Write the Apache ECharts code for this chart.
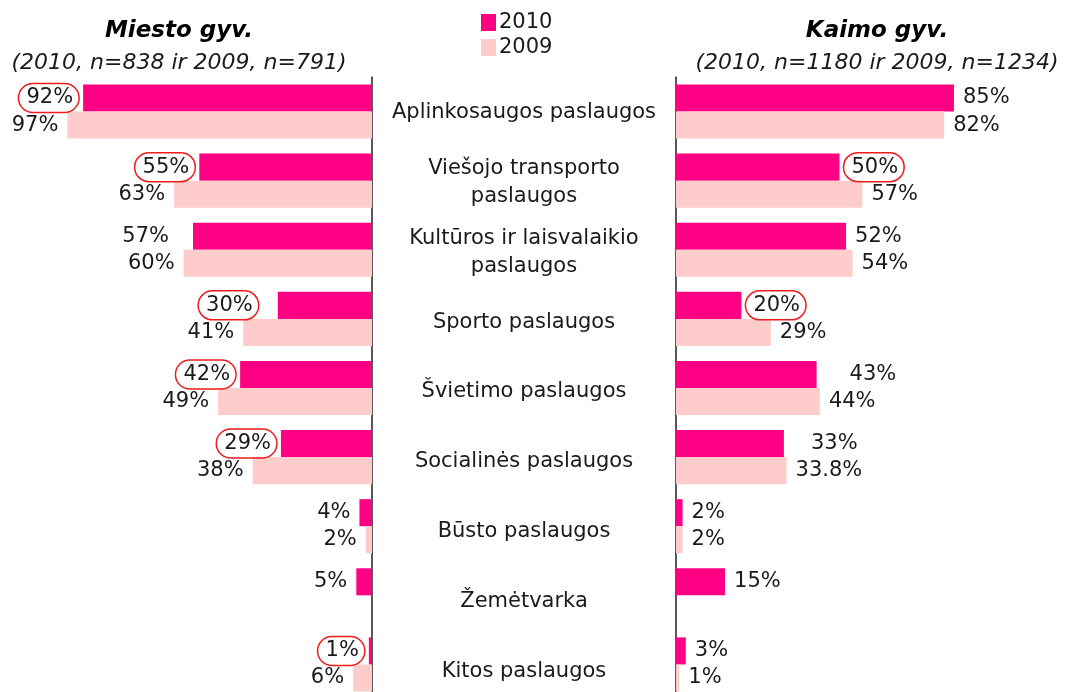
<!DOCTYPE html>
<html>
<head>
<meta charset="utf-8">
<script src="https://cdn.jsdelivr.net/npm/echarts@6/dist/echarts.min.js"></script>
<style>
  html, body { margin: 0; padding: 0; background: #fff; overflow: hidden; }
  /* the last category is cut by the bottom edge, as in the original */
  #chart { width: 1066px; height: 720px; }
</style>
</head>
<body>
<div id="chart"></div>
<script>
// paslaugų kategorijos (iš viršaus į apačią)
const categories = [
  'Aplinkosaugos paslaugos',
  'Viešojo transporto\npaslaugos',
  'Kultūros ir laisvalaikio\npaslaugos',
  'Sporto paslaugos',
  'Švietimo paslaugos',
  'Socialinės paslaugos',
  'Būsto paslaugos',
  'Žemėtvarka',
  'Kitos paslaugos'
]
const years = ['2010', '2009']
// Miesto gyv.
const city2010 = [92, 55, 57, 30, 42, 29, 4, 5, 1]
const city2009 = [97, 63, 60, 41, 49, 38, 2, null, 6]
// Kaimo gyv.
const rural2010 = [85, 50, 52, 20, 43, 33, 2, 15, 3]
const rural2009 = [82, 57, 54, 29, 44, 33.8, 2, null, 1]

const FONT = 'DejaVu Sans'
const colors = { y2010: '#ff0084', y2009: '#ffcccc' }

// rankiniai pažymėjimai (apvesti raudonai) ir etikečių atitraukimai
const circledCity = [0, 1, 3, 4, 5, 8]
const circledRural = [1, 3]
const nudgeCity = { 2: 24, 3: 25 }
const nudgeRural = { 4: 33, 5: 27 }

const circleStyle = {
  borderColor: '#ee1c1c',
  borderWidth: 1.5,
  borderRadius: 16,
  padding: [4, 6, 4, 8]
}

const makeData = (values, circled, nudge) => values.map((v, i) => {
  if (v === null) return '-'
  const label = {}
  if (nudge[i]) label.distance = nudge[i]
  if (circled.includes(i)) Object.assign(label, circleStyle, { distance: (nudge[i] || 10) - 6 })
  return Object.keys(label).length ? { value: v, label } : v
})

const baseLabel = (pos) => ({
  show: true,
  position: pos,
  distance: 9,
  fontFamily: FONT,
  fontSize: 21,
  color: '#1a1a1a',
  formatter: (p) => p.value + '%'
})

const titleStyle = { fontFamily: FONT, fontSize: 23, fontWeight: 'bold', fontStyle: 'italic', color: '#000' }
const subStyle = { fontFamily: FONT, fontSize: 22, fontStyle: 'italic', color: '#1a1a1a' }

const chart = echarts.init(document.getElementById('chart'))

const option = {
  animation: false,
  textStyle: { fontFamily: FONT },
  title: [
    {
      text: 'Miesto gyv.',
      subtext: '(2010, n=838 ir 2009, n=791)',
      left: 174,
      top: 15,
      textAlign: 'center',
      itemGap: 9,
      textStyle: titleStyle,
      subtextStyle: subStyle
    },
    {
      text: 'Kaimo gyv.',
      subtext: '(2010, n=1180 ir 2009, n=1234)',
      left: 872,
      top: 15,
      textAlign: 'center',
      itemGap: 9,
      textStyle: titleStyle,
      subtextStyle: subStyle
    }
  ],
  legend: {
    data: years,
    orient: 'vertical',
    left: 476,
    top: 7,
    icon: 'rect',
    itemWidth: 15,
    itemHeight: 17,
    itemGap: 4,
    textStyle: { fontFamily: FONT, fontSize: 21, color: '#1a1a1a', padding: [0, 0, 0, -2] }
  },
  grid: [
    { left: 58, width: 314, top: 77, height: 622 },
    { left: 676, width: 327, top: 77, height: 622 },
    // kategorijų pavadinimai viduryje
    { left: 372, width: 304, top: 77.5, height: 629 }
  ],
  xAxis: [
    { gridIndex: 0, type: 'value', min: 0, max: 100, inverse: true, show: false },
    { gridIndex: 1, type: 'value', min: 0, max: 100, show: false },
    { gridIndex: 2, type: 'value', min: 0, max: 100, show: false }
  ],
  yAxis: [
    {
      gridIndex: 0,
      type: 'category',
      data: categories,
      inverse: true,
      position: 'right',
      axisLine: { show: true, lineStyle: { color: '#222', width: 1.5 } },
      axisTick: { show: false },
      axisLabel: { show: false }
    },
    {
      gridIndex: 1,
      type: 'category',
      data: categories,
      inverse: true,
      position: 'left',
      axisLine: { show: true, lineStyle: { color: '#222', width: 1.5 } },
      axisTick: { show: false },
      axisLabel: { show: false }
    },
    {
      gridIndex: 2,
      type: 'category',
      data: categories,
      inverse: true,
      position: 'left',
      axisLine: { show: false },
      axisTick: { show: false },
      axisLabel: {
        show: true,
        align: 'center',
        margin: -152,
        fontFamily: FONT,
        fontSize: 21,
        lineHeight: 28,
        color: '#1a1a1a'
      }
    }
  ],
  series: [
    {
      name: '2010', type: 'bar', xAxisIndex: 0, yAxisIndex: 0,
      data: makeData(city2010, circledCity, nudgeCity),
      itemStyle: { color: colors.y2010 },
      barGap: '0%', barCategoryGap: '21.7%',
      label: baseLabel('left')
    },
    {
      name: '2009', type: 'bar', xAxisIndex: 0, yAxisIndex: 0,
      data: makeData(city2009, [], {}),
      itemStyle: { color: colors.y2009 },
      barGap: '0%', barCategoryGap: '21.7%',
      label: baseLabel('left')
    },
    {
      name: '2010', type: 'bar', xAxisIndex: 1, yAxisIndex: 1,
      data: makeData(rural2010, circledRural, nudgeRural),
      itemStyle: { color: colors.y2010 },
      barGap: '0%', barCategoryGap: '21.7%',
      label: baseLabel('right')
    },
    {
      name: '2009', type: 'bar', xAxisIndex: 1, yAxisIndex: 1,
      data: makeData(rural2009, [], {}),
      itemStyle: { color: colors.y2009 },
      barGap: '0%', barCategoryGap: '21.7%',
      label: baseLabel('right')
    }
  ]
}

chart.setOption(option)
</script>
</body>
</html>
